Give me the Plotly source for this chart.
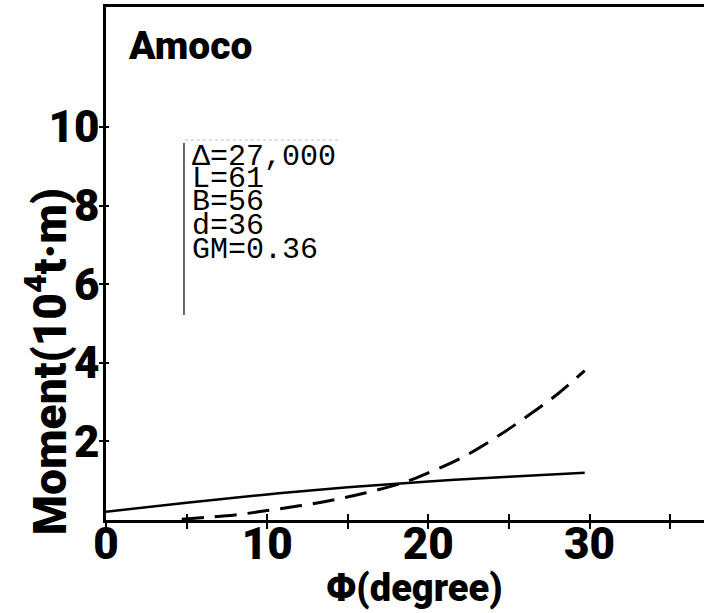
import plotly.graph_objects as go

# Righting moment (solid) and heeling moment (dashed) against heel angle
phi_solid = [0, 5, 10, 15, 20, 25, 29.7]
moment_solid = [0.21, 0.44, 0.65, 0.83, 0.98, 1.10, 1.20]

phi_dashed = [4.7, 8, 10, 12, 14, 16, 18.3, 20, 22, 24, 26, 28, 29.7]
moment_dashed = [0.02, 0.13, 0.24, 0.36, 0.50, 0.68, 0.93, 1.20, 1.57, 2.05, 2.60, 3.20, 3.80]

x_tickvals = [0, 10, 20, 30]
x_ticktext = ["0", "10", "20", "30"]
x_minor_vals = [5, 15, 25, 35]
y_tickvals = [2, 4, 6, 8, 10]
y_ticktext = ["2", "4", "6", "8", "10"]

ship_params = ["\u0394=27,000", "L=61", "B=56", "d=36", "GM=0.36"]

BOLD = "Roboto, Inter, Liberation Sans, sans-serif"
MONO = "Liberation Mono, Courier New, monospace"

X_RANGE = [0, 37.1]
Y_RANGE = [0, 13.05]

fig = go.Figure()
fig.add_trace(go.Scatter(x=phi_solid, y=moment_solid, mode="lines",
                         line=dict(color="black", width=2.5, shape="spline"),
                         showlegend=False))
fig.add_trace(go.Scatter(x=phi_dashed, y=moment_dashed, mode="lines",
                         line=dict(color="black", width=3, shape="spline", dash="22px,11px"),
                         showlegend=False))
# invisible trace on the overlay axes so their inside ticks are drawn
fig.add_trace(go.Scatter(x=[0], y=[0], xaxis="x2", yaxis="y2", mode="markers",
                         marker=dict(opacity=0), showlegend=False, hoverinfo="skip"))

fig.update_layout(
    width=704, height=613,
    margin=dict(l=106, r=0, t=7, b=93),
    paper_bgcolor="white", plot_bgcolor="white",
    xaxis=dict(range=X_RANGE, tickvals=x_tickvals, ticktext=x_ticktext,
               ticks="outside", ticklen=6, tickwidth=2, tickcolor="black",
               minor=dict(tickvals=x_minor_vals, ticks="outside", ticklen=6,
                          tickwidth=2, tickcolor="black", showgrid=False),
               ticklabelstandoff=-23,
               showline=True, linecolor="black", linewidth=3, mirror=True,
               showgrid=False, zeroline=False,
               tickfont=dict(family=BOLD, size=44, color="black", weight=900)),
    xaxis2=dict(range=X_RANGE, overlaying="x", tickvals=x_tickvals + x_minor_vals,
                showticklabels=False, ticks="inside", ticklen=6, tickwidth=2,
                tickcolor="black", showgrid=False, zeroline=False),
    yaxis=dict(range=Y_RANGE, tickvals=y_tickvals, ticktext=y_ticktext,
               ticks="outside", ticklen=4, tickwidth=1.5, tickcolor="black",
               ticklabelstandoff=-9,
               showline=True, linecolor="black", linewidth=2.5,
               showgrid=False, zeroline=False,
               tickfont=dict(family=BOLD, size=44, color="black", weight=900)),
    yaxis2=dict(range=Y_RANGE, overlaying="y", tickvals=y_tickvals,
                showticklabels=False, ticks="inside", ticklen=3, tickwidth=1.5,
                tickcolor="black", showgrid=False, zeroline=False),
)

annotations = [
    dict(text="Amoco", x=0.034, y=0.924, xref="paper", yref="paper",
         xanchor="left", yanchor="middle", showarrow=False,
         font=dict(family=BOLD, size=39, color="black", weight=900)),
    dict(text="Moment(10<sup>4</sup>t\u00b7m)", x=-0.1, y=0.308,
         xref="paper", yref="paper", xanchor="center", yanchor="middle",
         textangle=-90, showarrow=False,
         font=dict(family=BOLD, size=46, color="black", weight=900)),
    dict(text="\u03a6(degree)", x=0.516, y=-0.133, xref="paper", yref="paper",
         xanchor="center", yanchor="middle", showarrow=False,
         font=dict(family=BOLD, size=38, color="black", weight=900)),
]
line_y = [0.7076, 0.6647, 0.6199, 0.5731, 0.5263]
for label, yy in zip(ship_params, line_y):
    annotations.append(dict(text=label, x=0.1405, y=yy, xref="paper", yref="paper",
                            xanchor="left", yanchor="middle", showarrow=False,
                            font=dict(family=MONO, size=30, color="black")))
fig.update_layout(annotations=annotations)

# bracket beside the particulars block
fig.add_shape(type="line", xref="paper", yref="paper",
              x0=0.1304, x1=0.1304, y0=0.3996, y1=0.7349,
              line=dict(color="black", width=1.2))
fig.add_shape(type="line", xref="paper", yref="paper",
              x0=0.132, x1=0.391, y0=0.7407, y1=0.7407,
              line=dict(color="#bbbbbb", width=1, dash="dot"))

fig.write_html("out.html")
